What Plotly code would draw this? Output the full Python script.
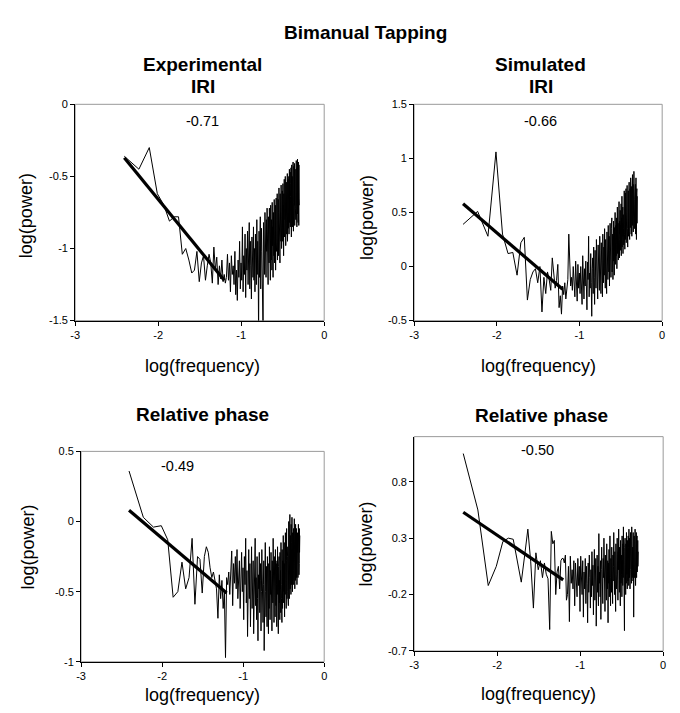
import math
import plotly.graph_objects as go

# ---------------- data ----------------
n_fft = 512
freq_bin = list(range(2, 257))          # spectral bins k = 2..256
log_freq = [math.log10(k / n_fft) for k in freq_bin]

exp_iri = [
    -0.36, -0.45, -0.30, -0.62, -0.70, -0.81, -0.78, -0.78, -1.04, -1.00,
    -1.08, -1.17, -1.15, -1.02, -1.23, -1.10, -1.05, -1.22, -1.12, -1.04,
    -1.10, -1.24, -0.99, -1.15, -1.06, -1.25, -1.12, -1.21, -1.08, -1.23,
    -1.18, -1.24, -1.20, -1.04, -1.22, -1.10, -1.30, -1.05, -1.18, -1.12,
    -1.25, -1.02, -1.32, -1.15, -1.36, -1.08, -1.20, -0.95, -1.28, -1.10,
    -1.22, -0.85, -1.30, -1.05, -1.18, -0.90, -1.34, -1.00, -1.15, -0.88,
    -1.25, -1.05, -0.82, -1.28, -0.95, -1.12, -1.35, -0.92, -1.08, -1.20,
    -0.85, -1.22, -1.00, -1.30, -0.90, -1.12, -1.25, -0.80, -1.18, -0.95,
    -1.10, -1.62, -0.88, -1.20, -0.98, -0.78, -1.28, -1.02, -0.86, -1.15,
    -0.95, -1.24, -1.60, -0.82, -1.05, -0.92, -1.18, -0.75, -1.08, -0.88,
    -1.20, -0.80, -1.02, -0.72, -1.12, -0.90, -1.25, -0.78, -0.98, -1.10,
    -0.72, -1.05, -0.85, -1.22, -0.70, -0.95, -1.08, -0.80, -1.15, -0.68,
    -0.98, -0.85, -1.20, -0.75, -0.92, -1.05, -0.66, -1.10, -0.82, -0.95,
    -0.70, -1.15, -0.88, -0.65, -1.02, -0.78, -0.96, -0.62, -1.08, -0.80,
    -0.92, -0.66, -1.05, -0.75, -0.58, -0.98, -0.85, -0.70, -1.10, -0.62,
    -0.88, -0.72, -0.95, -0.56, -0.82, -1.00, -0.68, -0.90, -0.60, -0.78,
    -0.95, -0.55, -0.85, -0.70, -1.05, -0.62, -0.80, -0.52, -0.92, -0.74,
    -0.60, -0.88, -0.50, -0.78, -0.98, -0.65, -0.84, -0.54, -0.72, -0.90,
    -0.58, -0.80, -0.48, -0.95, -0.66, -0.76, -0.52, -0.86, -0.62, -0.74,
    -0.50, -0.90, -0.68, -0.45, -0.82, -0.60, -0.75, -0.47, -0.85, -0.64,
    -0.55, -0.78, -0.44, -0.70, -0.92, -0.58, -0.42, -0.80, -0.66, -0.50,
    -0.85, -0.62, -0.46, -0.74, -0.40, -0.68, -0.88, -0.52, -0.60, -0.43,
    -0.78, -0.56, -0.70, -0.41, -0.84, -0.50, -0.64, -0.45, -0.72, -0.58,
    -0.40, -0.80, -0.55, -0.66, -0.39, -0.74, -0.48, -0.62, -0.85, -0.44,
    -0.70, -0.52, -0.38, -0.76, -0.60, -0.45, -0.82, -0.55, -0.40, -0.68,
    -0.50, -0.84, -0.42, -0.65, -0.70,
]

sim_iri = [
    0.39, 0.51, 0.28, 1.06, 0.30, 0.12, 0.13, -0.08, 0.22, 0.27,
    -0.31, -0.12, -0.05, -0.02, -0.15, 0.00, -0.42, -0.10, -0.25, -0.05,
    -0.12, -0.22, 0.08, -0.04, -0.20, -0.13, 0.02, -0.38, -0.27, -0.44,
    -0.18, -0.26, -0.15, -0.30, -0.20, -0.12, 0.30, -0.05, -0.18, -0.10,
    -0.22, 0.00, -0.15, -0.28, 0.05, -0.10, -0.32, 0.02, -0.20, -0.06,
    -0.25, 0.00, -0.14, -0.35, 0.10, -0.08, -0.30, -0.02, -0.18, 0.05,
    -0.22, -0.40, 0.04, -0.12, 0.28, -0.28, -0.06, -0.20, 0.12, -0.15,
    -0.46, -0.02, 0.08, -0.25, 0.18, -0.10, -0.35, 0.15, -0.05, -0.20,
    0.25, -0.18, 0.00, -0.30, 0.20, -0.08, 0.10, -0.22, 0.28, -0.12,
    0.05, -0.25, 0.22, -0.05, 0.15, -0.28, 0.30, 0.00, -0.15, 0.18,
    -0.08, 0.35, 0.05, -0.20, 0.25, -0.02, 0.12, -0.25, 0.32, 0.02,
    0.20, -0.12, 0.38, 0.08, -0.05, 0.28, -0.18, 0.15, 0.40, 0.00,
    0.22, -0.10, 0.35, 0.12, 0.45, -0.05, 0.18, 0.30, -0.12, 0.25,
    0.42, 0.05, 0.28, -0.08, 0.36, 0.15, 0.50, 0.02, 0.24, 0.38,
    0.10, 0.45, 0.20, -0.02, 0.32, 0.55, 0.12, 0.28, 0.40, 0.06,
    0.35, 0.18, 0.60, 0.25, 0.08, 0.42, 0.30, 0.52, 0.15, 0.38,
    0.22, 0.58, 0.10, 0.45, 0.32, 0.65, 0.18, 0.40, 0.28, 0.55,
    0.12, 0.48, 0.35, 0.62, 0.20, 0.42, 0.70, 0.30, 0.50, 0.16,
    0.45, 0.68, 0.25, 0.55, 0.38, 0.72, 0.22, 0.48, 0.60, 0.30,
    0.52, 0.75, 0.35, 0.62, 0.18, 0.58, 0.45, 0.70, 0.28, 0.50,
    0.66, 0.40, 0.78, 0.32, 0.55, 0.25, 0.68, 0.48, 0.72, 0.36,
    0.60, 0.82, 0.42, 0.58, 0.30, 0.74, 0.50, 0.65, 0.28, 0.56,
    0.70, 0.45, 0.85, 0.38, 0.62, 0.55, 0.76, 0.32, 0.60, 0.48,
    0.72, 0.88, 0.40, 0.66, 0.52, 0.80, 0.35, 0.62, 0.46, 0.70,
    0.55, 0.76, 0.30, 0.64, 0.50, 0.82, 0.42, 0.60, 0.25, 0.68,
    0.48, 0.72, 0.40, 0.58, 0.65,
]

exp_phase = [
    0.36, 0.03, -0.04, -0.03, -0.13, -0.54, -0.50, -0.29, -0.48, -0.40,
    -0.12, -0.59, -0.25, -0.27, -0.51, -0.25, -0.18, -0.22, -0.33, -0.40,
    -0.36, -0.42, -0.48, -0.69, -0.38, -0.55, -0.42, -0.62, -0.50, -0.97,
    -0.40, -0.45, -0.36, -0.52, -0.38, -0.21, -0.60, -0.30, -0.44, -0.25,
    -0.48, -0.20, -0.55, -0.35, -0.28, -0.62, -0.40, -0.22, -0.50, -0.33,
    -0.70, -0.25, -0.45, -0.12, -0.58, -0.35, -0.82, -0.40, -0.20, -0.55,
    -0.30, -0.75, -0.42, -0.18, -0.62, -0.48, -0.28, -0.80, -0.35, -0.52,
    -0.12, -0.60, -0.40, -0.70, -0.25, -0.55, -0.85, -0.38, -0.48, -0.22,
    -0.65, -0.42, -0.30, -0.78, -0.50, -0.20, -0.60, -0.35, -0.72, -0.45,
    -0.28, -0.92, -0.40, -0.58, -0.15, -0.50, -0.68, -0.32, -0.45, -0.75,
    -0.25, -0.55, -0.38, -0.80, -0.30, -0.62, -0.18, -0.48, -0.70, -0.35,
    -0.52, -0.22, -0.66, -0.40, -0.78, -0.28, -0.45, -0.58, -0.12, -0.50,
    -0.35, -0.72, -0.25, -0.55, -0.42, -0.68, -0.20, -0.48, -0.60, -0.30,
    -0.45, -0.75, -0.28, -0.52, -0.18, -0.62, -0.38, -0.80, -0.32, -0.50,
    -0.25, -0.58, -0.42, -0.70, -0.22, -0.48, -0.35, -0.65, -0.15, -0.45,
    -0.55, -0.30, -0.72, -0.20, -0.40, -0.62, -0.28, -0.50, -0.10, -0.38,
    -0.58, -0.22, -0.45, -0.30, -0.68, -0.15, -0.40, -0.52, -0.08, -0.35,
    -0.48, -0.20, -0.62, -0.28, -0.05, -0.42, -0.55, -0.18, -0.35, -0.25,
    -0.50, -0.12, -0.38, -0.60, -0.22, 0.00, -0.45, -0.30, -0.55, -0.15,
    -0.35, 0.05, -0.28, -0.48, -0.10, -0.40, -0.20, -0.52, -0.02, -0.32,
    -0.45, -0.15, -0.30, 0.03, -0.38, -0.22, -0.50, -0.08, -0.28, -0.42,
    -0.12, -0.35, -0.05, -0.45, -0.25, -0.18, -0.40, 0.02, -0.30, -0.20,
    -0.48, -0.10, -0.32, -0.22, -0.42, -0.02, -0.28, -0.38, -0.15, -0.25,
    -0.40, -0.05, -0.30, -0.18, -0.45, -0.12, -0.35, -0.22, -0.08, -0.32,
    -0.20, -0.40, -0.10, -0.28, -0.02, -0.35, -0.15, -0.25, -0.38, -0.12,
    -0.30, -0.05, -0.22, -0.15, -0.10,
]

sim_phase = [
    1.05, 0.55, -0.12, 0.05, 0.27, 0.30, 0.29, 0.10, -0.09, 0.15,
    0.38, 0.09, -0.32, 0.17, 0.02, 0.10, -0.05, 0.08, -0.02, -0.06,
    -0.51, 0.36, 0.25, 0.28, -0.20, 0.00, 0.05, -0.15, 0.10, 0.12,
    0.12, 0.08, 0.15, -0.25, -0.20, 0.05, -0.44, 0.14, -0.10, 0.02,
    -0.15, 0.10, -0.30, 0.08, -0.05, -0.22, 0.12, -0.12, 0.05, -0.35,
    0.14, -0.08, -0.20, 0.10, -0.40, 0.00, -0.15, 0.12, -0.28, 0.05,
    -0.10, -0.45, 0.08, -0.18, 0.15, -0.05, -0.32, 0.02, -0.22, 0.18,
    -0.12, 0.06, -0.38, 0.00, 0.20, -0.25, -0.08, 0.12, -0.48, -0.02,
    0.15, -0.18, 0.05, -0.30, 0.34, -0.10, 0.00, -0.22, 0.10, -0.42,
    0.02, 0.22, -0.15, 0.08, -0.28, 0.12, -0.05, 0.30, -0.20, 0.00,
    -0.35, 0.15, -0.08, 0.05, -0.25, 0.25, -0.02, -0.15, 0.10, -0.45,
    0.08, -0.10, 0.20, -0.22, 0.02, 0.32, -0.05, -0.30, 0.12, 0.00,
    -0.18, 0.22, -0.02, 0.10, -0.28, 0.15, -0.08, 0.05, 0.35, -0.12,
    0.02, -0.20, 0.18, -0.05, 0.08, -0.35, 0.25, 0.00, -0.15, 0.12,
    -0.02, 0.30, -0.10, 0.05, -0.25, 0.18, 0.02, 0.38, -0.08, 0.10,
    -0.18, 0.22, 0.00, 0.12, -0.30, 0.28, 0.05, -0.10, 0.20, -0.02,
    0.15, -0.22, 0.32, 0.02, 0.10, -0.12, 0.25, -0.05, 0.40, 0.00,
    -0.15, 0.18, 0.08, -0.52, 0.22, 0.05, 0.30, -0.08, 0.12, -0.20,
    0.25, 0.02, -0.10, 0.35, 0.10, -0.02, 0.20, -0.15, 0.28, 0.05,
    0.15, -0.08, 0.32, 0.00, 0.22, -0.12, 0.38, 0.08, 0.18, -0.05,
    0.30, 0.10, -0.15, 0.25, 0.02, 0.35, 0.12, -0.02, 0.28, 0.05,
    0.20, -0.10, 0.40, 0.08, 0.15, -0.05, 0.30, 0.00, 0.22, 0.12,
    -0.08, 0.35, 0.05, 0.25, -0.40, 0.18, 0.02, 0.32, 0.10, -0.05,
    0.28, 0.15, 0.00, 0.38, 0.08, 0.22, -0.12, 0.30, 0.05, 0.18,
    0.02, 0.35, 0.12, -0.05, 0.25, 0.10, 0.32, 0.00, 0.20, 0.15,
    0.08, 0.28, 0.05, 0.22, 0.18,
]

series = [exp_iri, sim_iri, exp_phase, sim_phase]
panel_titles = [["Experimental", "IRI"], ["Simulated", "IRI"], ["Relative phase"], ["Relative phase"]]
slope_labels = ["-0.71", "-0.66", "-0.49", "-0.50"]
fit_bins = [2, 32]
fit_power = [[-0.37, -1.22], [0.58, -0.21], [0.08, -0.51], [0.53, -0.07]]
y_ranges = [[-1.5, 0], [-0.5, 1.5], [-1, 0.5], [-0.7, 1.2]]
y_ticks = [[-1.5, -1, -0.5, 0], [-0.5, 0, 0.5, 1, 1.5], [-1, -0.5, 0, 0.5], [-0.7, -0.2, 0.3, 0.8]]
y_tick_text = [["-1.5", "-1", "-0.5", "0"], ["-0.5", "0", "0.5", "1", "1.5"],
               ["-1", "-0.5", "0", "0.5"], ["-0.7", "-0.2", "0.3", "0.8"]]
x_ticks = [-3, -2, -1, 0]
x_tick_text = ["-3", "-2", "-1", "0"]

# ---------------- layout helpers ----------------
W, H = 680, 713
def px(x):
    return x / W
def py(y):
    return 1 - y / H

# plot rectangles in pixels: (left, right, top, bottom)
rects = [(71, 323, 100, 320), (414, 665, 100, 320), (77, 323, 453, 667), (414, 666, 438, 656)]
title_pos = [(200, [60, 82]), (542, [60, 82]), (200, [415]), (543, [417])]
slope_pos = [(200, 117), (542, 117), (175, 468), (539, 452)]
xlab_pos = [(200, 366), (540, 366), (200, 701), (540, 700)]
ylab_pos = [(22, 213), (367, 215), (23, 550), (365, 547)]

FONT = "Liberation Sans, Arial, sans-serif"

fig = go.Figure()
layout = dict(
    width=W, height=H, margin=dict(l=0, r=0, t=0, b=0),
    paper_bgcolor="white", plot_bgcolor="white", showlegend=False,
    font=dict(family=FONT, color="black"),
)
annotations = []
shapes = []

for i in range(4):
    sfx = "" if i == 0 else str(i + 1)
    xa, ya = "x" + sfx, "y" + sfx
    fig.add_trace(go.Scatter(x=log_freq, y=series[i], mode="lines",
                             line=dict(color="black", width=1), xaxis=xa, yaxis=ya,
                             hoverinfo="skip"))
    fit_x = [math.log10(k / n_fft) for k in fit_bins]
    fig.add_trace(go.Scatter(x=fit_x, y=fit_power[i], mode="lines",
                             line=dict(color="black", width=3.2), xaxis=xa, yaxis=ya,
                             hoverinfo="skip"))
    l, r, t, b = rects[i]
    layout["xaxis" + sfx] = dict(
        domain=[px(l), px(r)], anchor=ya, range=[-3, 0], tickvals=x_ticks, ticktext=x_tick_text,
        ticks="outside", ticklen=4, tickcolor="black", showline=True, linecolor="black",
        linewidth=1, showgrid=False, zeroline=False, tickfont=dict(size=11, family=FONT),
        fixedrange=True,
    )
    layout["yaxis" + sfx] = dict(
        domain=[py(b), py(t)], anchor=xa, range=y_ranges[i], tickvals=y_ticks[i],
        ticktext=y_tick_text[i], ticks="outside", ticklen=4, tickcolor="black", showline=True,
        linecolor="black", linewidth=1, showgrid=False, zeroline=False,
        tickfont=dict(size=11, family=FONT), fixedrange=True,
    )
    shapes.append(dict(type="rect", xref=xa + " domain", yref=ya + " domain",
                       x0=0, x1=1, y0=0, y1=1, line=dict(color="#9a9a9a", width=1),
                       layer="below"))
    tx, tys = title_pos[i]
    for line_txt, ty in zip(panel_titles[i], tys):
        annotations.append(dict(text="<b>%s</b>" % line_txt, x=px(tx), y=py(ty), xref="paper",
                                yref="paper", showarrow=False, xanchor="center", yanchor="middle",
                                font=dict(size=19, family=FONT)))
    sx, sy = slope_pos[i]
    annotations.append(dict(text=slope_labels[i], x=px(sx), y=py(sy), xref="paper", yref="paper",
                            showarrow=False, xanchor="center", yanchor="middle",
                            font=dict(size=14.5, family=FONT)))
    lx, ly = xlab_pos[i]
    annotations.append(dict(text="log(frequency)", x=px(lx), y=py(ly), xref="paper", yref="paper",
                            showarrow=False, xanchor="center", yanchor="middle",
                            font=dict(size=18, family=FONT)))
    yx, yy = ylab_pos[i]
    annotations.append(dict(text="log(power)", x=px(yx), y=py(yy), xref="paper", yref="paper",
                            showarrow=False, xanchor="center", yanchor="middle", textangle=-90,
                            font=dict(size=18, family=FONT)))

annotations.append(dict(text="<b>Bimanual Tapping</b>", x=px(365), y=py(27), xref="paper",
                        yref="paper", showarrow=False, xanchor="center", yanchor="middle",
                        font=dict(size=19, family=FONT)))

layout["annotations"] = annotations
layout["shapes"] = shapes
fig.update_layout(**layout)
fig.write_html("out.html", config={"displayModeBar": False},
               post_script="document.body.style.margin='0px';document.body.style.overflow='hidden';")
